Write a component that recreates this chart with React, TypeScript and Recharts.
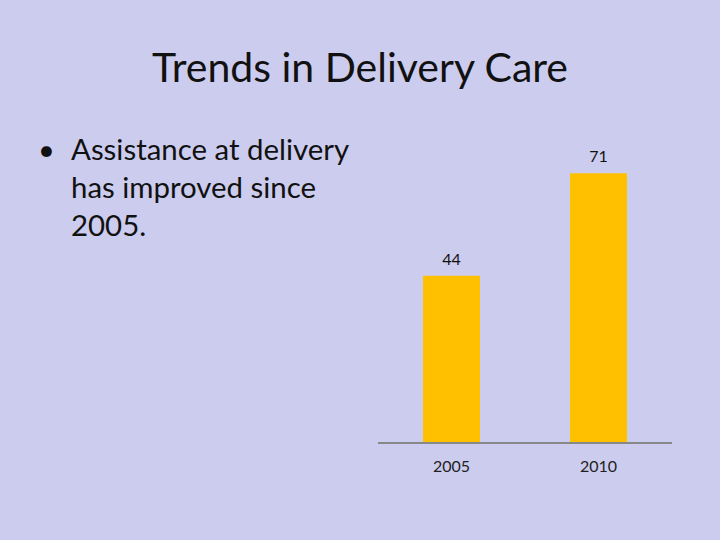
import React from 'react';
import { BarChart, Bar, XAxis, YAxis, LabelList } from 'recharts';

const years = ['2005', '2010'];
const assisted = [44, 71];

const chartData = years.map((year, i) => ({ year, value: assisted[i] }));

const FONT = 'Lato, "Open Sans", sans-serif';

export default function App() {
  return (
    <div
      style={{
        position: 'absolute',
        left: 0,
        top: 0,
        width: 720,
        height: 540,
        background: '#CCCCEE',
        fontFamily: FONT,
        color: '#111',
        overflow: 'hidden',
      }}
    >
      <div
        style={{
          position: 'absolute',
          top: 40,
          left: 0,
          width: 720,
          textAlign: 'center',
          fontSize: 41,
          lineHeight: '54px',
        }}
      >
        Trends in Delivery Care
      </div>

      <div style={{ position: 'absolute', left: 38, top: 130, fontSize: 29, lineHeight: '38px' }}>
        •
      </div>
      <div
        style={{
          position: 'absolute',
          left: 71,
          top: 130,
          width: 300,
          fontSize: 29.4,
          lineHeight: '38px',
        }}
      >
        Assistance at delivery
        <br />
        has improved since
        <br />
        2005.
      </div>

      <div style={{ position: 'absolute', left: 378, top: 100 }}>
        <BarChart
          width={294}
          height={400}
          data={chartData}
          margin={{ top: 39, right: 0, left: 0, bottom: 0 }}
        >
          <XAxis
            dataKey="year"
            height={57}
            axisLine={{ stroke: '#888888', strokeWidth: 2 }}
            tickLine={false}
            tickMargin={12}
            tick={{ fill: '#222', fontSize: 16, fontFamily: FONT }}
          />
          <YAxis hide domain={[0, 80]} />
          <Bar dataKey="value" fill="#FFC000" barSize={57} isAnimationActive={false}>
            <LabelList
              dataKey="value"
              position="top"
              offset={11}
              fill="#111"
              fontSize={16}
              fontFamily={FONT}
            />
          </Bar>
        </BarChart>
      </div>
    </div>
  );
}
